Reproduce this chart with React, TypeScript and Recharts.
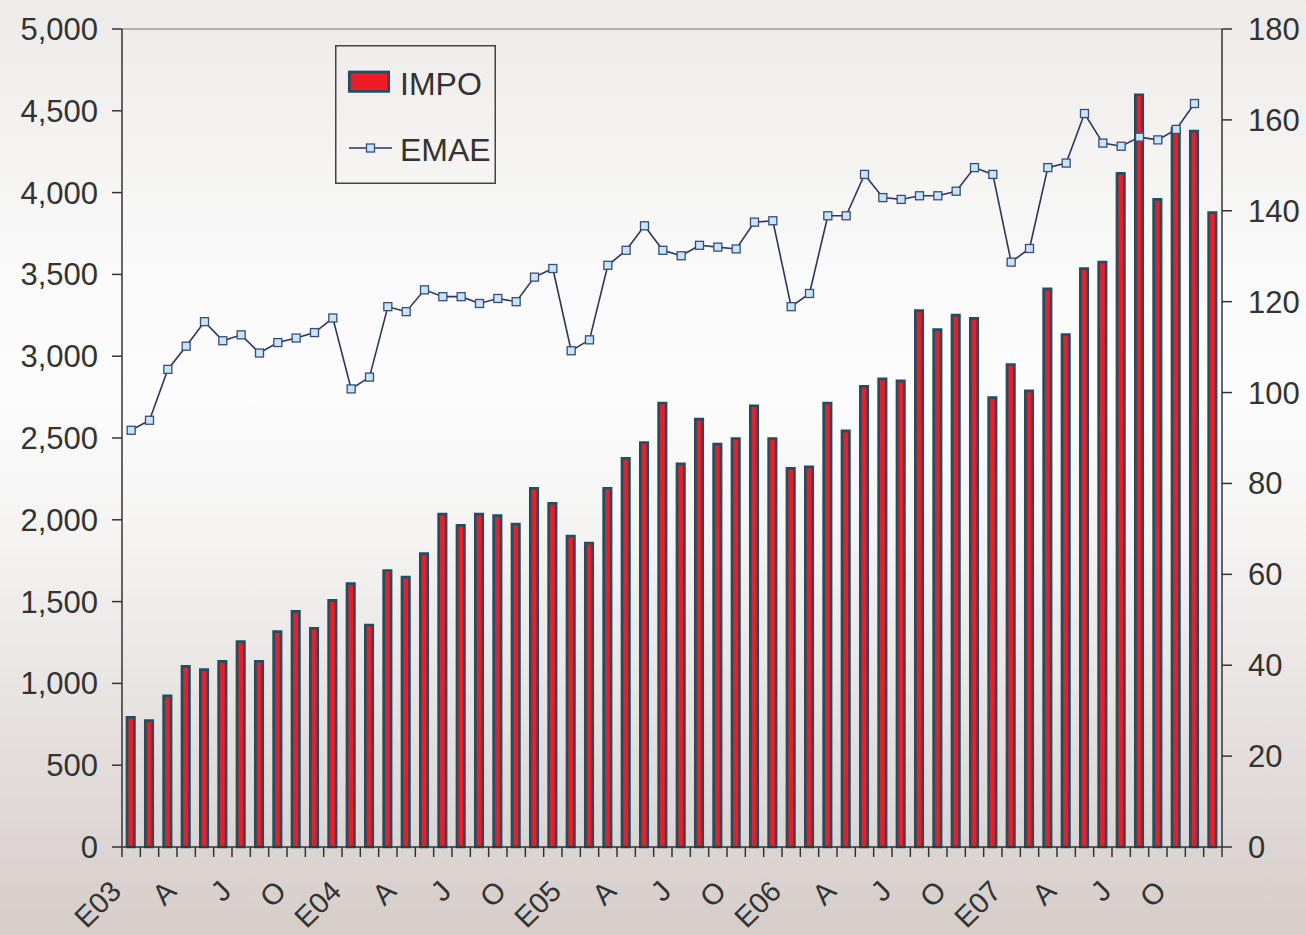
import React from "react";
import {
  ComposedChart,
  Bar,
  Line,
  XAxis,
  YAxis,
  Legend,
  ReferenceLine,
} from "recharts";

const YEARS = ["03", "04", "05", "06", "07"];
const MONTHS = ["E", "F", "M", "A", "Y", "J", "L", "G", "S", "O", "N", "D"];

// shown every third month, at the left edge of the month
const QUARTER_LABELS = [
  "E03", "A", "J", "O",
  "E04", "A", "J", "O",
  "E05", "A", "J", "O",
  "E06", "A", "J", "O",
  "E07", "A", "J", "O",
];

const IMPO = [
  792, 772, 924, 1104, 1084, 1135, 1255, 1135, 1316, 1440, 1337, 1508,
  1610, 1357, 1690, 1650, 1793, 2035, 1966, 2035, 2026, 1974, 2193, 2100,
  1901, 1858, 2193, 2375, 2472, 2714, 2342, 2615, 2463, 2496, 2697, 2496,
  2314, 2323, 2714, 2543, 2816, 2862, 2849, 3279, 3162, 3251, 3231, 2747,
  2948, 2788, 3412, 3132, 3535, 3575, 4118, 4598, 3958, 4392, 4376, 3877,
];

const EMAE = [
  91.7, 93.9, 105.1, 110.2, 115.6, 111.4, 112.7, 108.7, 111.0, 112.0, 113.2, 116.4,
  100.8, 103.4, 118.9, 117.8, 122.6, 121.1, 121.1, 119.6, 120.7, 120.0, 125.4, 127.3,
  109.2, 111.6, 128.0, 131.3, 136.7, 131.3, 130.1, 132.4, 132.0, 131.6, 137.5, 137.8,
  118.9, 121.8, 138.9, 138.9, 148.0, 142.9, 142.5, 143.3, 143.3, 144.3, 149.5, 148.0,
  128.7, 131.7, 149.5, 150.5, 161.4, 154.9, 154.2, 156.2, 155.6, 157.9, 163.6, null,
];

const LEFT_TICKS = [0, 500, 1000, 1500, 2000, 2500, 3000, 3500, 4000, 4500, 5000];
const RIGHT_TICKS = [0, 20, 40, 60, 80, 100, 120, 140, 160, 180];

const data = YEARS.flatMap((y) => MONTHS.map((m) => m + y)).map((month, i) => ({
  month,
  impo: IMPO[i],
  emae: EMAE[i],
}));

const W = 1306;
const H = 935;
const PLOT_LEFT = 122;
const PLOT_RIGHT = 1222;
const PLOT_BOTTOM = 847;
const BAND = (PLOT_RIGHT - PLOT_LEFT) / data.length;
const FONT = '"Liberation Sans", Arial, Helvetica, sans-serif';
const TEXT = "#333";

function MonthTick({ x, index }: any) {
  const bx = x - BAND / 2;
  const label = index % 3 === 0 ? QUARTER_LABELS[index / 3] : "";
  const lx = bx + 1;
  const ly = 893;
  return (
    <g>
      <line x1={bx} y1={PLOT_BOTTOM} x2={bx} y2={PLOT_BOTTOM + 10} stroke={TEXT} strokeWidth={1.5} />
      {index === data.length - 1 && (
        <line x1={bx + BAND} y1={PLOT_BOTTOM} x2={bx + BAND} y2={PLOT_BOTTOM + 10} stroke={TEXT} strokeWidth={1.5} />
      )}
      {label && (
        <text
          x={lx}
          y={ly}
          textAnchor="end"
          transform={`rotate(-45, ${lx}, ${ly})`}
          fill={TEXT}
          fontSize={29}
          fontFamily={FONT}
        >
          {label}
        </text>
      )}
    </g>
  );
}

function LegendBox() {
  return (
    <svg width={161} height={139} style={{ display: "block" }}>
      <rect x={0.75} y={0.75} width={159.5} height={137.5} fill="none" stroke="#444" strokeWidth={1.5} />
      <rect x={14.3} y={27} width={39.4} height={19.4} fill="#ee1c25" stroke="#1f4f63" strokeWidth={2.7} />
      <text x={65} y={49.5} fontSize={32} fontFamily={FONT} fill={TEXT}>
        IMPO
      </text>
      <line x1={14} y1={103} x2={57} y2={103} stroke="#2d3561" strokeWidth={1.5} />
      <rect x={31.5} y={99} width={8} height={8} fill="#c5e6f7" stroke="#3b4a7a" strokeWidth={1.3} />
      <text x={65} y={115.5} fontSize={32} fontFamily={FONT} fill={TEXT}>
        EMAE
      </text>
    </svg>
  );
}

function SquareDot({ cx, cy }: any) {
  if (cx == null || cy == null) return null;
  return (
    <rect x={cx - 4} y={cy - 4} width={8} height={8} fill="#c5e6f7" stroke="#3b4a7a" strokeWidth={1.3} />
  );
}

export default function App() {
  return (
    <div
      style={{
        position: "absolute",
        left: 0,
        top: 0,
        width: W,
        height: H,
        background:
          "linear-gradient(to bottom, #edebe9 0%, #f2f1ef 12%, #fafafa 30%, #fcfcfc 42%, #f4f3f2 58%, #e6e2e0 76%, #d5cdca 100%)",
      }}
    >
      <ComposedChart
        width={W}
        height={H}
        data={data}
        margin={{ top: 29, right: 8, bottom: 8, left: 8 }}
        barCategoryGap={0}
      >
        <XAxis
          dataKey="month"
          interval={0}
          height={80}
          tickLine={false}
          axisLine={{ stroke: TEXT, strokeWidth: 1.5 }}
          tick={<MonthTick />}
        />
        <YAxis
          yAxisId="left"
          orientation="left"
          width={114}
          domain={[0, 5000]}
          ticks={LEFT_TICKS}
          interval={0}
          tickSize={10}
          tickMargin={14}
          tickFormatter={(v: number) => v.toLocaleString("en-US")}
          tick={{ fill: TEXT, fontSize: 31, fontFamily: FONT }}
          axisLine={{ stroke: TEXT, strokeWidth: 1.5 }}
          tickLine={{ stroke: TEXT, strokeWidth: 1.5 }}
        />
        <YAxis
          yAxisId="right"
          orientation="right"
          width={76}
          domain={[0, 180]}
          ticks={RIGHT_TICKS}
          interval={0}
          tickSize={10}
          tickMargin={16}
          tick={{ fill: TEXT, fontSize: 31, fontFamily: FONT, textAnchor: "start" }}
          axisLine={{ stroke: TEXT, strokeWidth: 1.5 }}
          tickLine={{ stroke: TEXT, strokeWidth: 1.5 }}
        />
        <ReferenceLine yAxisId="left" y={5000} stroke="#a3978f" strokeWidth={1.5} />
        <Legend
          layout="vertical"
          align="center"
          verticalAlign="middle"
          content={() => <LegendBox />}
          wrapperStyle={{ left: 335, top: 45, width: 161, height: 139 }}
        />
        <Bar
          yAxisId="left"
          dataKey="impo"
          name="IMPO"
          barSize={7.4}
          fill="#ee1c25"
          stroke="#1f4f63"
          strokeWidth={2.7}
          isAnimationActive={false}
        />
        <Line
          yAxisId="right"
          dataKey="emae"
          name="EMAE"
          type="linear"
          stroke="#2d3561"
          strokeWidth={1.6}
          dot={<SquareDot />}
          activeDot={false}
          connectNulls={false}
          isAnimationActive={false}
        />
      </ComposedChart>
    </div>
  );
}
